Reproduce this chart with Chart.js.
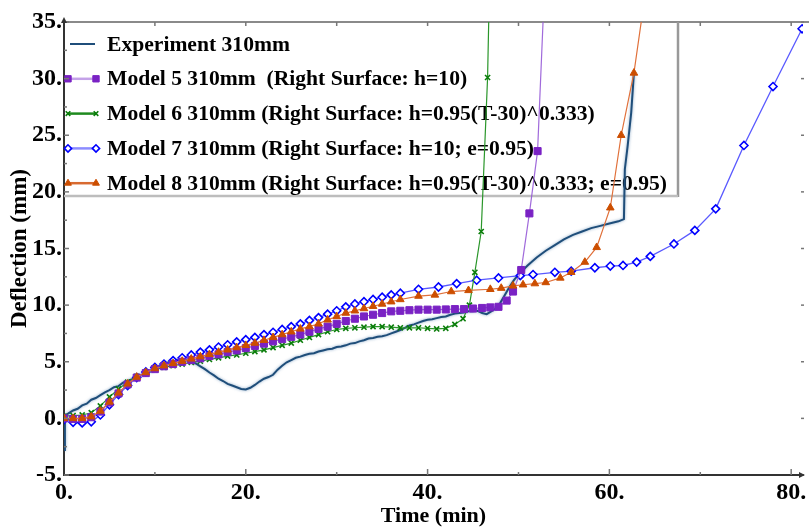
<!DOCTYPE html>
<html>
<head>
<meta charset="utf-8">
<script src="https://cdn.jsdelivr.net/npm/chart.js@4.4.1/dist/chart.umd.min.js"></script>
<style>
  html, body { margin: 0; padding: 0; background: #fff; }
  canvas { display: block; }
</style>
</head>
<body>
<canvas id="chart" width="809" height="531"></canvas>
<script>
// tick labels
const xMajor = [0, 20, 40, 60, 80];
const xMinor = [10, 30, 50, 70];
const yMajor = [-5, 0, 5, 10, 15, 20, 25, 30, 35];
const yMinor = [-2.5, 2.5, 7.5, 12.5, 17.5, 22.5, 27.5, 32.5];

const legendLabels = [
    'Experiment 310mm',
    'Model 5 310mm  (Right Surface: h=10)',
    'Model 6 310mm (Right Surface: h=0.95(T-30)^0.333)',
    'Model 7 310mm (Right Surface: h=10; e=0.95)',
    'Model 8 310mm (Right Surface: h=0.95(T-30)^0.333; e=0.95)'
];

// Experiment 310mm
const expT = [0, 0.1, 0.5, 1, 1.5, 2, 2.5, 3, 3.5, 4, 4.5, 5, 5.5, 6, 6.5, 7, 7.5, 8, 8.5, 9, 9.5,
    10, 10.5, 11, 11.5, 12, 12.5, 13, 13.5, 14, 14.5, 15, 15.5, 16, 16.5, 17, 17.5, 18, 18.5, 19, 19.5,
    20, 20.5, 21, 21.5, 22, 22.5, 23, 23.5, 24, 24.5, 25, 25.5, 26, 26.5, 27, 27.5, 28, 28.5, 29, 29.5,
    30, 30.5, 31, 31.5, 32, 32.5, 33, 33.5, 34, 34.5, 35, 35.5, 36, 36.5, 37, 37.5, 38, 38.5, 39, 39.5,
    40, 40.5, 41, 41.5, 42, 42.5, 43, 43.5, 44, 44.5, 45, 45.5, 46, 46.5, 47, 47.5, 48, 48.5, 49, 49.5,
    50, 50.5, 51, 51.5, 52, 53, 54, 55, 56, 57, 58, 59, 60, 61, 61.6, 61.7, 62, 62.4, 62.7];
const expY = [-2.8, 0.2, 0.45, 0.7, 0.85, 1.15, 1.3, 1.65, 1.8, 2.05, 2.3, 2.5, 2.75, 2.85, 3.15, 3.3, 3.45, 3.7, 3.8, 4.05, 4.15,
    4.4, 4.6, 4.75, 4.95, 5.0, 5.15, 5.05, 5.15, 4.95, 4.85, 4.6, 4.35, 4.05, 3.8, 3.5, 3.3, 3.05, 2.9, 2.75, 2.6,
    2.55, 2.7, 2.95, 3.25, 3.5, 3.65, 3.85, 4.3, 4.65, 4.95, 5.15, 5.35, 5.45, 5.6, 5.7, 5.75, 5.9, 6.0, 6.1, 6.15,
    6.3, 6.35, 6.45, 6.6, 6.65, 6.8, 6.9, 7.05, 7.1, 7.2, 7.25, 7.35, 7.5, 7.65, 7.8, 8.0, 8.2, 8.3, 8.45, 8.6,
    8.7, 8.75, 8.85, 8.95, 9.0, 9.15, 9.25, 9.3, 9.35, 9.45, 9.45, 9.5, 9.3, 9.2, 9.45, 9.7, 10.2, 10.9, 11.6, 12.2,
    12.7, 13.1, 13.5, 13.85, 14.2, 14.8, 15.3, 15.8, 16.2, 16.5, 16.8, 17.0, 17.2, 17.4, 17.6, 22.0, 24.0, 27.0, 30.5];

// Model 5 310mm (h=10)
const m5T = [0, 1, 2, 3, 4, 5, 6, 7, 8, 9, 10, 11, 12, 13, 14, 15, 16, 17, 18, 19, 20, 21, 22, 23,
    24, 25, 26, 27, 28, 29, 30, 31, 32, 33, 34, 35, 36, 37, 38, 39, 40, 41, 42, 43, 44, 45, 46,
    46.9, 47.8, 48.7, 49.4, 50.3, 51.2, 52.1, 53.0];
const m5Y = [0.0, -0.05, -0.05, 0.1, 0.6, 1.4, 2.2, 3.0, 3.6, 4.0, 4.35, 4.6, 4.8, 5.0, 5.15, 5.3, 5.5, 5.65, 5.85, 6.0, 6.2, 6.4, 6.6, 6.8,
    7.0, 7.2, 7.4, 7.65, 7.9, 8.1, 8.35, 8.6, 8.8, 9.0, 9.15, 9.3, 9.45, 9.5, 9.55, 9.6, 9.6, 9.6, 9.62, 9.65, 9.65, 9.7, 9.75,
    9.8, 9.85, 10.4, 11.2, 13.1, 18.1, 23.6, 40.7];

// Model 6 310mm (h=0.95(T-30)^0.333)
const m6T = [0, 1, 2, 3, 4, 5, 6, 7, 8, 9, 10, 11, 12, 13, 14, 15, 16, 17, 18, 19, 20, 21, 22, 23,
    24, 25, 26, 27, 28, 29, 30, 31, 32, 33, 34, 35, 36, 37, 38, 39, 40, 41, 42, 43,
    43.9, 44.6, 45.2, 45.9, 46.6, 47.1];
const m6Y = [0.2, 0.25, 0.3, 0.5, 1.1, 1.9, 2.6, 3.2, 3.7, 4.0, 4.3, 4.5, 4.65, 4.8, 4.95, 5.05, 5.2, 5.35, 5.5, 5.6, 5.75, 5.9, 6.05, 6.25,
    6.45, 6.65, 6.9, 7.15, 7.4, 7.65, 7.85, 7.95, 8.0, 8.05, 8.1, 8.1, 8.05, 8.0, 8.0, 8.0, 7.95, 7.9, 7.95, 8.3,
    8.8, 10.0, 12.9, 16.5, 30.1, 50.0];

// Model 7 310mm (h=10; e=0.95)
const m7T = [0, 1, 2, 3, 4, 5, 6, 7, 8, 9, 10, 11, 12, 13, 14, 15, 16, 17, 18, 19, 20, 21, 22, 23,
    24, 25, 26, 27, 28, 29, 30, 31, 32, 33, 34, 35, 36, 37,
    39, 41.2, 43.2, 45.4, 47.8, 50.2, 51.6, 54.0, 55.8, 58.4, 60.1, 61.5, 63.0, 64.5, 67.1, 69.4,
    71.7, 74.8, 78.0, 81.2, 83.5];
const m7Y = [-0.1, -0.35, -0.4, -0.3, 0.3, 1.2, 2.1, 2.9, 3.6, 4.1, 4.5, 4.8, 5.1, 5.35, 5.6, 5.85, 6.05, 6.3, 6.5, 6.75, 6.95, 7.15, 7.4, 7.6,
    7.85, 8.1, 8.35, 8.65, 8.9, 9.2, 9.5, 9.85, 10.1, 10.3, 10.5, 10.7, 10.9, 11.05,
    11.4, 11.6, 11.9, 12.2, 12.4, 12.6, 12.7, 12.9, 13.0, 13.3, 13.45, 13.5, 13.8, 14.3, 15.4, 16.6,
    18.5, 24.1, 29.3, 34.4, 38.0];

// Model 8 310mm (h=0.95(T-30)^0.333; e=0.95)
const m8T = [0, 1, 2, 3, 4, 5, 6, 7, 8, 9, 10, 11, 12, 13, 14, 15, 16, 17, 18, 19, 20, 21, 22, 23,
    24, 25, 26, 27, 28, 29, 30, 31, 32, 33, 34, 35, 36, 37,
    39, 40.8, 42.6, 44.5, 46.9, 48.1, 49.4, 50.5, 51.8, 53.0, 54.6, 55.8, 57.3, 58.6, 60.1, 61.3, 62.7, 64.0];
const m8Y = [0.0, 0.0, 0.0, 0.15, 0.65, 1.45, 2.25, 3.05, 3.65, 4.05, 4.4, 4.65, 4.85, 5.05, 5.25, 5.45, 5.65, 5.85, 6.05, 6.25, 6.45, 6.65, 6.9, 7.15,
    7.4, 7.65, 7.9, 8.1, 8.35, 8.7, 9.0, 9.3, 9.5, 9.7, 9.9, 10.1, 10.3, 10.5,
    10.8, 10.9, 11.2, 11.3, 11.4, 11.5, 11.7, 11.8, 11.9, 12.0, 12.4, 12.9, 13.8, 15.1, 18.6, 25.0, 30.5, 37.8];

const pts = (t, v) => t.map((x, i) => ({ x: x, y: v[i] }));

const FONT = '"Liberation Serif", "Times New Roman", serif';
Chart.defaults.font.family = FONT;
Chart.defaults.color = '#000';

const styles = [
    { line: '#1f4e7a', width: 2, point: false },
    { line: 'rgba(150,90,215,0.9)', legendLine: '#c4a2e8', width: 1.2, point: 'rect', radius: 5, fill: '#7a22c4', stroke: '#7a22c4', bw: 1 },
    { line: '#2a962a', legendLine: '#1e8a1e', width: 1.2, point: 'crossRot', radius: 3.6, fill: '#0a7d0a', stroke: '#0a7d0a', bw: 1.6 },
    { line: 'rgba(60,60,255,0.85)', legendLine: '#8c8cff', width: 1.3, point: 'rectRot', radius: 4, fill: '#fff', stroke: '#0000ff', bw: 1.6 },
    { line: '#e0703a', legendLine: '#d86a30', width: 1.2, point: 'triangle', radius: 4.4, fill: '#cc4e00', stroke: '#cc4e00', bw: 1 }
];

function lineSet(data, st, order) {
    return {
        data: data,
        borderColor: st.line,
        borderWidth: st.width,
        pointStyle: st.point || 'circle',
        pointRadius: st.point ? st.radius : 0,
        pointBackgroundColor: st.fill,
        pointBorderColor: st.stroke,
        pointBorderWidth: st.bw,
        tension: 0,
        order: order
    };
}

// legend, frame and inward ticks
const framePlugin = {
    id: 'frame',
    beforeDatasetsDraw(chart) {
        const ctx = chart.ctx;
        const a = chart.chartArea;
        ctx.save();
        // top frame line
        ctx.strokeStyle = '#8a8a8a';
        ctx.lineWidth = 2;
        ctx.beginPath();
        ctx.moveTo(a.left, a.top);
        ctx.lineTo(chart.width, a.top);
        ctx.stroke();

        // legend box shadow borders
        ctx.strokeStyle = '#999';
        ctx.lineWidth = 2.5;
        ctx.beginPath();
        ctx.moveTo(678, a.top);
        ctx.lineTo(678, 197);
        ctx.stroke();
        ctx.strokeStyle = '#bdbdbd';
        ctx.beginPath();
        ctx.moveTo(a.left, 196);
        ctx.lineTo(678, 196);
        ctx.stroke();

        ctx.font = 'bold 21.6px ' + FONT;
        ctx.textBaseline = 'middle';
        ctx.textAlign = 'left';
        legendLabels.forEach((label, i) => {
            const y = 44 + i * 34.8;
            const st = styles[i];
            ctx.strokeStyle = st.legendLine || st.line;
            ctx.lineWidth = st.legendLine ? 2.5 : 2;
            ctx.beginPath();
            ctx.moveTo(i === 0 ? 70 : 68, y);
            ctx.lineTo(i === 0 ? 95 : 96, y);
            ctx.stroke();
            if (st.point) {
                ctx.fillStyle = st.fill;
                ctx.strokeStyle = st.stroke;
                ctx.lineWidth = st.bw;
                const opt = { pointStyle: st.point, radius: st.radius * 0.9, rotation: 0, borderWidth: st.bw };
                Chart.helpers.drawPoint(ctx, opt, 68, y);
                Chart.helpers.drawPoint(ctx, opt, 96, y);
            }
            ctx.fillStyle = '#000';
            ctx.fillText(label, 107, y + 1);
        });
        ctx.restore();
    },
    beforeDatasetDraw(chart, args) {
        if (args.index === 0) {
            chart.ctx.save();
            chart.ctx.shadowColor = 'rgba(60,110,160,0.6)';
            chart.ctx.shadowBlur = 3;
        }
    },
    afterDatasetDraw(chart, args) {
        if (args.index === 0) chart.ctx.restore();
    },
    afterDraw(chart) {
        const ctx = chart.ctx;
        const a = chart.chartArea;
        const xs = chart.scales.x;
        const ys = chart.scales.y;
        ctx.save();
        ctx.strokeStyle = '#777';
        ctx.lineWidth = 1.5;
        const seg = (x1, y1, x2, y2) => {
            ctx.beginPath();
            ctx.moveTo(x1, y1);
            ctx.lineTo(x2, y2);
            ctx.stroke();
        };
        xMajor.forEach(v => {
            const p = xs.getPixelForValue(v);
            if (v > 0) seg(p, a.bottom, p, a.bottom - 6);
            if (v > 0) seg(p, a.top, p, a.top + 4);
        });
        xMinor.forEach(v => {
            const p = xs.getPixelForValue(v);
            seg(p, a.bottom, p, a.bottom - 3);
            seg(p, a.top, p, a.top + 4);
        });
        yMajor.forEach(v => {
            const p = ys.getPixelForValue(v);
            seg(a.left, p, a.left + 5, p);
            seg(a.right + 1, p, a.right - 2, p);
        });
        yMinor.forEach(v => {
            const p = ys.getPixelForValue(v);
            seg(a.left, p, a.left + 3, p);
        });
        // axis arrow heads
        ctx.fillStyle = '#333';
        ctx.beginPath();
        ctx.moveTo(a.left, a.top - 5);
        ctx.lineTo(a.left - 3, a.top + 1);
        ctx.lineTo(a.left + 3, a.top + 1);
        ctx.closePath();
        ctx.fill();
        ctx.beginPath();
        ctx.moveTo(a.right + 2, a.bottom);
        ctx.lineTo(a.right - 4, a.bottom - 3);
        ctx.lineTo(a.right - 4, a.bottom + 3);
        ctx.closePath();
        ctx.fill();
        ctx.restore();
    }
};

new Chart(document.getElementById('chart'), {
    type: 'line',
    data: {
        datasets: [
            lineSet(pts(expT, expY), styles[0], 5),
            lineSet(pts(m5T, m5Y), styles[1], 2),
            lineSet(pts(m6T, m6Y), styles[2], 3),
            lineSet(pts(m7T, m7Y), styles[3], 4),
            lineSet(pts(m8T, m8Y), styles[4], 1)
        ]
    },
    options: {
        responsive: false,
        devicePixelRatio: 1,
        animation: false,
        layout: { padding: { top: 22, right: 2, left: 0, bottom: 0 } },
        plugins: {
            legend: { display: false },
            tooltip: { enabled: false }
        },
        scales: {
            x: {
                type: 'linear',
                min: 0,
                max: 81.3,
                grid: { display: false, drawTicks: false },
                border: { display: true, color: '#333', width: 2 },
                ticks: {
                    stepSize: 20,
                    includeBounds: false,
                    padding: 3,
                    font: { size: 24, weight: 'bold' },
                    callback: v => (xMajor.includes(v) ? v + '.' : '')
                },
                title: {
                    display: true,
                    text: 'Time (min)',
                    font: { size: 22, weight: 'bold' },
                    padding: { top: 0, bottom: 1 }
                },
                afterFit(s) {
                    s.height = 56;
                    s.paddingLeft = 0;
                    s.paddingRight = 0;
                }
            },
            y: {
                min: -5,
                max: 35,
                grid: { display: false, drawTicks: false },
                border: { display: true, color: '#333', width: 2 },
                ticks: {
                    stepSize: 5,
                    padding: 2,
                    font: { size: 24, weight: 'bold' },
                    callback: v => v + '.'
                },
                title: {
                    display: true,
                    text: 'Deflection (mm)',
                    font: { size: 23, weight: 'bold' },
                    padding: { top: 6, bottom: 0 }
                },
                afterFit(s) {
                    s.width = 64;
                    s.paddingTop = 0;
                    s.paddingBottom = 0;
                }
            }
        }
    },
    plugins: [framePlugin]
});
</script>
</body>
</html>
